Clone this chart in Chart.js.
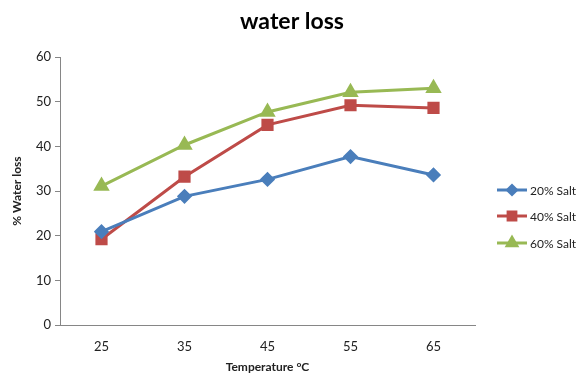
<!DOCTYPE html>
<html><head><meta charset="utf-8">
<script src="https://cdn.jsdelivr.net/npm/chart.js@4/dist/chart.umd.min.js"></script>
<style>html,body{margin:0;padding:0;background:#fff}#w{width:582px;height:374px;position:relative}</style>
</head><body><div id="w"><canvas id="c" width="582" height="374"></canvas></div>
<script>
const categories = ["25", "35", "45", "55", "65"];
const salt20 = [20.9, 28.8, 32.6, 37.7, 33.6];
const salt40 = [19.2, 33.2, 44.8, 49.2, 48.6];
const salt60 = [31.1, 40.3, 47.7, 52.1, 53.0];
const seriesNames = ["20% Salt", "40% Salt", "60% Salt"];
const yTicks = [0, 10, 20, 30, 40, 50, 60];
const chartTitle = "water loss";
const FONT = "Lato, 'Liberation Sans', sans-serif";

const colors = ["#4A7EBB", "#BE4B48", "#98B954"];
const styles = ["rectRot", "rect", "triangle"];
const radii = [5.5, 6.5, 6.5];

const legendPlugin = {
  id: 'customLegend',
  afterDraw(chart) {
    const ctx = chart.ctx;
    ctx.save();
    ctx.fillStyle = "#000";
    ctx.font = "bold 23px " + FONT;
    ctx.textAlign = "center";
    ctx.textBaseline = "middle";
    ctx.fillText(chartTitle, 292, 22);
    ctx.restore();
    const ys = [190, 216, 243];
    chart.data.datasets.forEach((ds, i) => {
      const y = ys[i];
      ctx.save();
      ctx.strokeStyle = ds.borderColor;
      ctx.lineWidth = 3;
      ctx.beginPath(); ctx.moveTo(497, y); ctx.lineTo(527, y); ctx.stroke();
      Chart.helpers.drawPoint(ctx, {pointStyle: ds.pointStyle, radius: ds.pointRadius - 1, borderWidth: 1}, 512, y);
      ctx.fillStyle = ds.borderColor;
      ctx.fill();
      ctx.fillStyle = "#222";
      ctx.font = "12px " + FONT;
      ctx.textBaseline = "middle";
      ctx.textAlign = "left";
      ctx.fillText(ds.label, 530, y + 1);
      ctx.restore();
    });
  }
};

const ds = [salt20, salt40, salt60].map((d, i) => ({
  label: seriesNames[i],
  data: d,
  borderColor: colors[i],
  backgroundColor: colors[i],
  pointBackgroundColor: colors[i],
  pointBorderColor: colors[i],
  pointStyle: styles[i],
  pointRadius: radii[i],
  borderWidth: 3,
  tension: 0
}));

new Chart(document.getElementById('c'), {
  type: 'line',
  data: { labels: categories, datasets: ds },
  plugins: [legendPlugin],
  options: {
    responsive: false,
    animation: false,
    devicePixelRatio: 1,
    layout: { padding: { top: 57, right: 107, left: 0, bottom: 0 } },
    plugins: {
      legend: { display: false },
      tooltip: { enabled: false },
      title: { display: false }
    },
    scales: {
      x: {
        offset: true,
        grid: { display: false, drawTicks: false },
        border: { display: true, color: "#868686", width: 1 },
        ticks: { color: "#222", font: { family: FONT, size: 13 }, padding: 14 },
        title: { display: true, text: "Temperature °C", color: "#222", font: { family: FONT, size: 12, weight: 'bold' }, padding: { top: 3, bottom: 0 } },
        afterFit(s) { s.height = 49; }
      },
      y: {
        min: 0, max: 60,
        afterBuildTicks(s) { s.ticks = yTicks.map(v => ({ value: v })); },
        grid: { display: true, drawOnChartArea: false, drawTicks: true, tickLength: 5, color: "#868686" },
        border: { display: true, color: "#868686", width: 1 },
        ticks: { color: "#222", font: { family: FONT, size: 13 }, padding: 4 },
        title: { display: true, text: "% Water loss", color: "#222", font: { family: FONT, size: 12, weight: 'bold' }, padding: { top: 10, bottom: 2 } },
        afterFit(s) { s.width = 60; }
      }
    }
  }
});
</script>
</body></html>
